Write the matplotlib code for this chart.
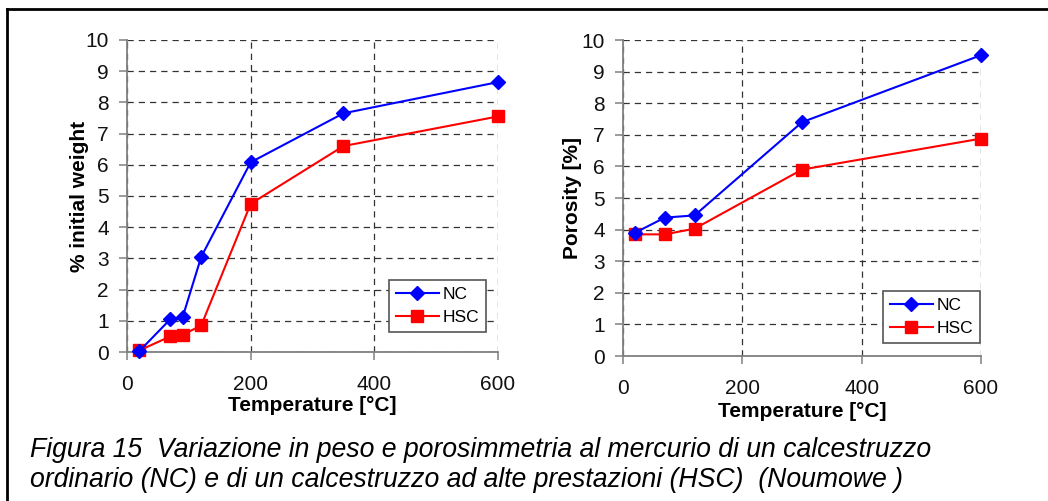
import matplotlib.pyplot as plt
from matplotlib.lines import Line2D

# data
temp_w_nc = [20, 70, 90, 120, 200, 350, 600]
weight_nc = [0.03, 1.05, 1.12, 3.05, 6.08, 7.65, 8.65]
temp_w_hsc = [20, 70, 90, 120, 200, 350, 600]
weight_hsc = [0.05, 0.5, 0.55, 0.85, 4.75, 6.6, 7.55]

temp_p = [20, 70, 120, 300, 600]
poro_nc = [3.9, 4.38, 4.45, 7.4, 9.52]
poro_hsc = [3.85, 3.85, 4.03, 5.9, 6.88]

series_labels = ['NC', 'HSC']
y_ticks = list(range(0, 11))
x_ticks = [0, 200, 400, 600]

caption_lines = ['Figura 15  Variazione in peso e porosimmetria al mercurio di un calcestruzzo',
                 'ordinario (NC) e di un calcestruzzo ad alte prestazioni (HSC)  (Noumowe )']

plt.rcParams['font.family'] = ['Liberation Sans', 'DejaVu Sans']

fig = plt.figure(figsize=(10.48, 5.01), dpi=100)


def setup(ax, ylabel, nc_x, nc_y, hsc_x, hsc_y, leg_box, ylab_x, xlab_y):
    ax.plot(nc_x, nc_y, color='#0000ff', marker='D', markersize=7, lw=1.5,
            label=series_labels[0], clip_on=False, zorder=4)
    ax.plot(hsc_x, hsc_y, color='#ff0000', marker='s', markersize=9, lw=1.5,
            label=series_labels[1], clip_on=False, zorder=3)
    ax.set_xlim(0, 600)
    ax.set_ylim(0, 10)
    ax.set_xticks(x_ticks)
    ax.set_yticks(y_ticks)
    ax.grid(True, color='#333333', ls=(0, (5, 4)), lw=0.9)
    for s in ['top', 'right']:
        ax.spines[s].set_visible(False)
    for s in ['left', 'bottom']:
        ax.spines[s].set_color('#808080')
        ax.spines[s].set_linewidth(1.3)
    ax.tick_params(length=6, width=1.1, color='#808080', labelsize=15,
                   labelcolor='#111111')
    ax.tick_params(axis='y', pad=7)
    ax.tick_params(axis='x', pad=10.5)
    ax.set_xlabel('Temperature [°C]', fontsize=15, fontweight='bold', va='center')
    ax.set_ylabel(ylabel, fontsize=15, fontweight='bold', va='center')
    ax.xaxis.set_label_coords(0.5, xlab_y)
    ax.yaxis.set_label_coords(ylab_x, 0.5)
    leg = ax.legend(loc='lower left', bbox_to_anchor=leg_box, fontsize=12.5,
                    fancybox=False, edgecolor='#555555', framealpha=1,
                    handlelength=2.5, borderpad=0.4, labelspacing=0.45,
                    handletextpad=0.2, borderaxespad=0)
    leg.get_frame().set_linewidth(1.2)


ax1 = fig.add_axes([0.1212, 0.2974, 0.354, 0.6228])
setup(ax1, '% initial weight', temp_w_nc, weight_nc, temp_w_hsc, weight_hsc,
      (0.705, 0.063), -0.127, -0.171)

ax2 = fig.add_axes([0.5945, 0.2894, 0.3416, 0.6307])
setup(ax2, 'Porosity [%]', temp_p, poro_nc, temp_p, poro_hsc,
      (0.725, 0.04), -0.142, -0.175)

# outer frame (top and left edges)
fig.add_artist(Line2D([7 / 1048, 1.0], [1 - 9 / 501, 1 - 9 / 501],
                      transform=fig.transFigure, color='black', lw=2))
fig.add_artist(Line2D([7 / 1048, 7 / 1048], [0, 1 - 9 / 501],
                      transform=fig.transFigure, color='black', lw=2))

fig.text(30 / 1048, 1 - 457 / 501, caption_lines[0], fontsize=19.2, style='italic',
         va='baseline', ha='left', color='black')
fig.text(30 / 1048, 1 - 487 / 501, caption_lines[1], fontsize=19.2, style='italic',
         va='baseline', ha='left', color='black')

fig.savefig('out.png', dpi=100)
